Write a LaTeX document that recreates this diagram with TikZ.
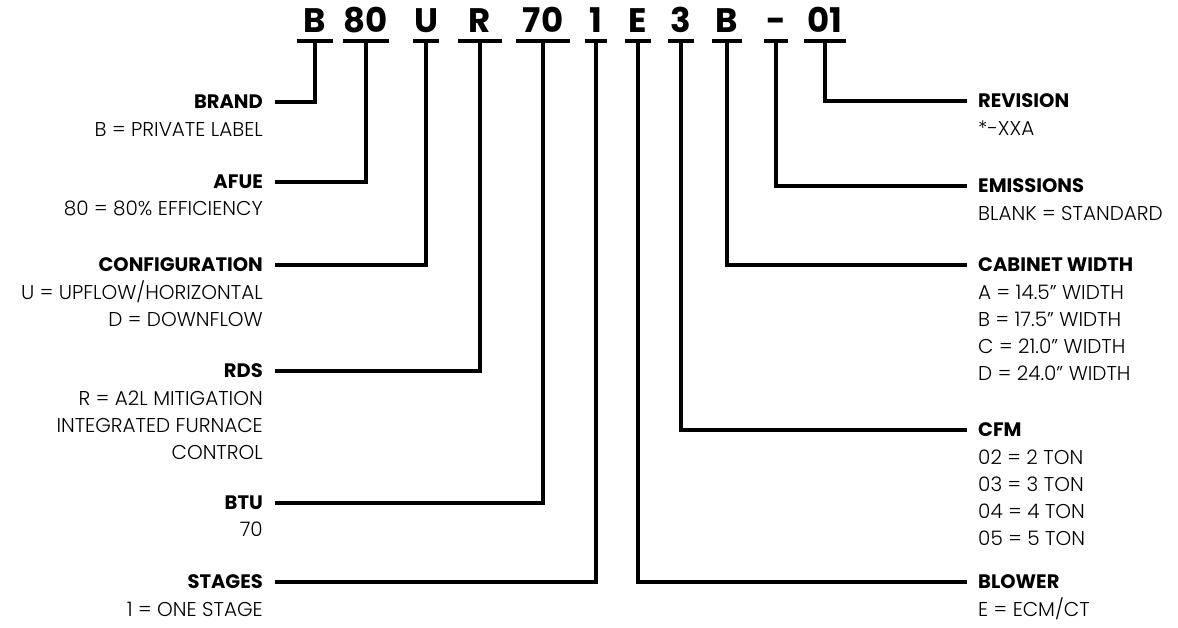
\documentclass[tikz,border=0pt]{standalone}
\usepackage{fontspec}
\setmainfont{Poppins}[UprightFont=* Light, BoldFont=* Bold]
\usetikzlibrary{positioning}

\begin{document}
\begin{tikzpicture}[x=1pt, y=-1pt,
    every node/.style={font=\fontsize{20}{27}\selectfont},
    code/.style={font=\fontsize{34}{34}\selectfont\bfseries, inner sep=0pt, anchor=base},
    tl/.style={font=\fontsize{19.5}{27}\selectfont\bfseries, inner xsep=12pt, inner ysep=0pt, anchor=east},
    tr/.style={font=\fontsize{19.5}{27}\selectfont\bfseries, inner xsep=11pt, inner ysep=0pt, anchor=west},
    dl/.style={align=right, inner xsep=12pt, inner ysep=0pt, anchor=north east},
    dr/.style={align=left, inner xsep=11pt, inner ysep=0pt, anchor=north west},
    ln/.style={line width=3.2pt}
]
\def\ul#1{\draw[ln] ([yshift=-9pt]#1.base west) -- ([yshift=-9pt]#1.base east);}
\def\tp{\rule{0pt}{20pt}}
\useasboundingbox (0,0) rectangle (1178,627);

% model number
\node[code, minimum width=36] (cB)   at (315,32) {B};
\node[code, minimum width=45] (c80)  at (366,32) {80};
\node[code, minimum width=26] (cU)   at (426,32) {U};
\node[code, minimum width=44] (cR)   at (480,32) {R};
\node[code, minimum width=53] (c70)  at (543,32) {70};
\node[code, minimum width=22] (c1)   at (596,32) {1};
\node[code, minimum width=25] (cE)   at (638,32) {E};
\node[code, minimum width=25] (c3)   at (681,32) {3};
\node[code, minimum width=29] (cW)   at (727,32) {B};
\node[code, minimum width=24] (cD)   at (776,32) {-};
\node[code, minimum width=42] (c01)  at (825,32) {01};
\ul{cB} \ul{c80} \ul{cU} \ul{cR} \ul{c70} \ul{c1}
\ul{cE} \ul{c3} \ul{cW} \ul{cD} \ul{c01}

% left side
\node[tl] (brand)  at (275,102) {BRAND};
\node[dl] at ([yshift=-7pt]brand.base east) {\tp B = PRIVATE LABEL};
\node[tl] (afue)   at (275,182) {AFUE};
\node[dl] at ([yshift=-7pt]afue.base east) {\tp 80 = 80\% EFFICIENCY};
\node[tl] (config) at (275,265) {CONFIGURATION};
\node[dl] at ([yshift=-7pt]config.base east) {\tp U = UPFLOW/HORIZONTAL\\D = DOWNFLOW};
\node[tl] (rds)    at (275,371) {RDS};
\node[dl] at ([yshift=-7pt]rds.base east) {\tp R = A2L MITIGATION\\INTEGRATED FURNACE\\CONTROL};
\node[tl] (btu)    at (275,503) {BTU};
\node[dl] at ([yshift=-7pt]btu.base east) {\tp 70};
\node[tl] (stages) at (275,582) {STAGES};
\node[dl] at ([yshift=-7pt]stages.base east) {\tp 1 = ONE STAGE};

% right side
\node[tr] (rev)    at (967,101) {REVISION};
\node[dr] at ([yshift=-7pt]rev.base west) {\tp *-XXA};
\node[tr] (emis)   at (967,186) {EMISSIONS};
\node[dr] at ([yshift=-7pt]emis.base west) {\tp BLANK = STANDARD};
\node[tr] (cab)    at (967,265) {CABINET WIDTH};
\node[dr] at ([yshift=-7pt]cab.base west) {\tp A = 14.5” WIDTH\\B = 17.5” WIDTH\\C = 21.0” WIDTH\\D = 24.0” WIDTH};
\node[tr] (cfm)    at (967,430) {CFM};
\node[dr] at ([yshift=-7pt]cfm.base west) {\tp 02 = 2 TON\\03 = 3 TON\\04 = 4 TON\\05 = 5 TON};
\node[tr] (blower) at (967,582) {BLOWER};
\node[dr] at ([yshift=-7pt]blower.base west) {\tp E = ECM/CT};

% leaders
\draw[ln] ([yshift=-9pt]cB.base)  |- (brand.east);
\draw[ln] ([yshift=-9pt]c80.base) |- (afue.east);
\draw[ln] ([yshift=-9pt]cU.base)  |- (config.east);
\draw[ln] ([yshift=-9pt]cR.base)  |- (rds.east);
\draw[ln] ([yshift=-9pt]c70.base) |- (btu.east);
\draw[ln] ([yshift=-9pt]c1.base)  |- (stages.east);
\draw[ln] ([yshift=-9pt]cE.base)  |- (blower.west);
\draw[ln] ([yshift=-9pt]c3.base)  |- (cfm.west);
\draw[ln] ([yshift=-9pt]cW.base)  |- (cab.west);
\draw[ln] ([yshift=-9pt]cD.base)  |- (emis.west);
\draw[ln] ([yshift=-9pt]c01.base) |- (rev.west);
\end{tikzpicture}
\end{document}
